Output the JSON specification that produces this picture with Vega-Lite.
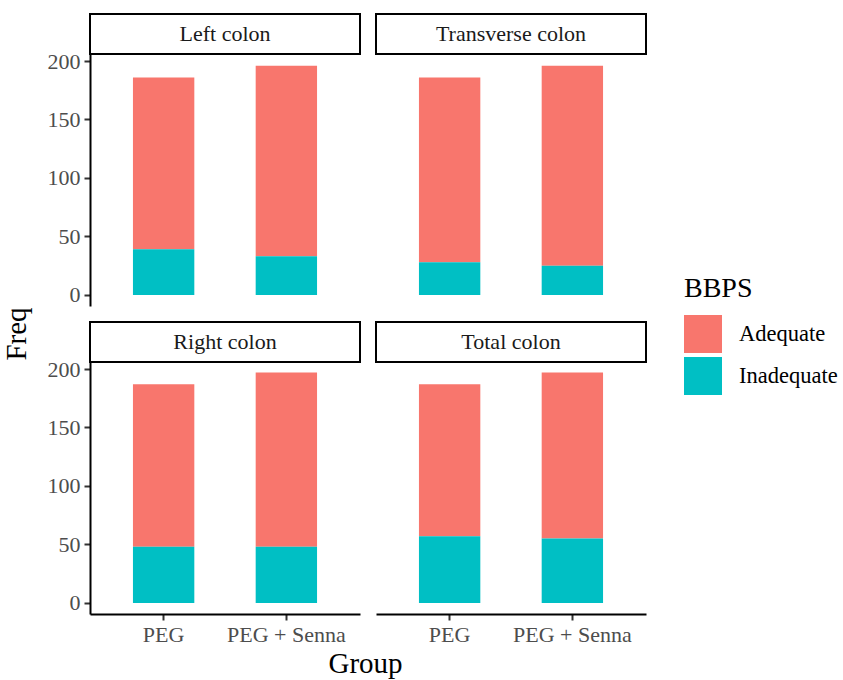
{
  "$schema": "https://vega.github.io/schema/vega-lite/v6.json",
  "padding": {"left": 2, "top": 13, "right": 5, "bottom": 5},
  "datasets": {
    "colon": [
      {"region": "Left colon", "Group": "PEG", "BBPS": "Adequate", "Freq": 147},
      {"region": "Left colon", "Group": "PEG", "BBPS": "Inadequate", "Freq": 39},
      {"region": "Left colon", "Group": "PEG + Senna", "BBPS": "Adequate", "Freq": 163},
      {"region": "Left colon", "Group": "PEG + Senna", "BBPS": "Inadequate", "Freq": 33},
      {"region": "Transverse colon", "Group": "PEG", "BBPS": "Adequate", "Freq": 158},
      {"region": "Transverse colon", "Group": "PEG", "BBPS": "Inadequate", "Freq": 28},
      {"region": "Transverse colon", "Group": "PEG + Senna", "BBPS": "Adequate", "Freq": 171},
      {"region": "Transverse colon", "Group": "PEG + Senna", "BBPS": "Inadequate", "Freq": 25},
      {"region": "Right colon", "Group": "PEG", "BBPS": "Adequate", "Freq": 139},
      {"region": "Right colon", "Group": "PEG", "BBPS": "Inadequate", "Freq": 48},
      {"region": "Right colon", "Group": "PEG + Senna", "BBPS": "Adequate", "Freq": 149},
      {"region": "Right colon", "Group": "PEG + Senna", "BBPS": "Inadequate", "Freq": 48},
      {"region": "Total colon", "Group": "PEG", "BBPS": "Adequate", "Freq": 130},
      {"region": "Total colon", "Group": "PEG", "BBPS": "Inadequate", "Freq": 57},
      {"region": "Total colon", "Group": "PEG + Senna", "BBPS": "Adequate", "Freq": 142},
      {"region": "Total colon", "Group": "PEG + Senna", "BBPS": "Inadequate", "Freq": 55}
    ]
  },
  "config": {
    "font": "Liberation Serif",
    "view": {"stroke": null},
    "axis": {
      "labelFont": "Liberation Serif", "labelFontSize": 22, "labelColor": "#4D4D4D",
      "titleFont": "Liberation Serif", "titleFontSize": 29, "titleFontWeight": "normal", "titleColor": "black",
      "domainColor": "black", "domainWidth": 2, "tickColor": "#333333", "tickWidth": 2, "tickSize": 6,
      "labelPadding": 4, "grid": false
    },
    "legend": {
      "titleFont": "Liberation Serif", "titleFontSize": 28, "titleFontWeight": "normal", "titleColor": "black",
      "labelFont": "Liberation Serif", "labelFontSize": 22.5, "labelColor": "black",
      "symbolType": "square", "symbolSize": 1444, "symbolStrokeWidth": 0,
      "labelOffset": 17, "rowPadding": 4, "titlePadding": 12,
      "orient": "none", "legendX": 651, "legendY": 261
    }
  },
  "resolve": {"scale": {"color": "shared"}, "legend": {"color": "shared"}},
  "spacing": 10,
  "hconcat": [
    {
      "data": {"name": "colon"},
      "width": 1, "height": 639,
      "mark": {"type": "point", "opacity": 0},
      "encoding": {
        "y": {"field": "Freq", "type": "quantitative", "axis": {"title": "Freq", "labels": false, "ticks": false, "domain": false, "titlePadding": 2}}
      }
    },
    {
      "spacing": 0,
      "vconcat": [
        {
          "spacing": 15,
          "vconcat": [
            {
              "spacing": 14,
              "hconcat": [
                {
                  "spacing": 0,
                  "bounds": "flush",
                  "vconcat": [
                    {
                      "data": {"name": "colon"},
                      "transform": [{"filter": "datum.region === 'Left colon'"}, {"aggregate": [{"op": "count", "as": "n"}], "groupby": ["region"]}],
                      "width": 270, "height": 40,
                      "view": {"stroke": "black", "strokeWidth": 2},
                      "mark": {"type": "text", "font": "Liberation Serif", "fontSize": 22, "color": "#1a1a1a"},
                      "encoding": {"text": {"field": "region", "type": "nominal"}}
                    },
                    {
                      "data": {"name": "colon"},
                      "transform": [{"filter": "datum.region === 'Left colon'"}],
                      "width": 270, "height": 252,
                      "mark": {"type": "bar"},
                      "encoding": {
                        "x": {"field": "Group", "type": "nominal", "scale": {"domain": ["PEG", "PEG + Senna"], "paddingInner": 0.5, "paddingOuter": 0.35}, "axis": null},
                        "y": {"field": "Freq", "type": "quantitative", "stack": "zero", "scale": {"domain": [-9.5, 206], "nice": false, "zero": false},
                              "axis": {"title": null, "values": [0, 50, 100, 150, 200]}},
                        "color": {"field": "BBPS", "type": "nominal", "scale": {"domain": ["Adequate", "Inadequate"], "range": ["#F8766D", "#00BFC4"]}, "legend": {"title": "BBPS"}},
                        "order": {"field": "BBPS", "sort": "descending"}
                      }
                    }
                  ]
                },
                {
                  "spacing": 0,
                  "bounds": "flush",
                  "vconcat": [
                    {
                      "data": {"name": "colon"},
                      "transform": [{"filter": "datum.region === 'Transverse colon'"}, {"aggregate": [{"op": "count", "as": "n"}], "groupby": ["region"]}],
                      "width": 270, "height": 40,
                      "view": {"stroke": "black", "strokeWidth": 2},
                      "mark": {"type": "text", "font": "Liberation Serif", "fontSize": 22, "color": "#1a1a1a"},
                      "encoding": {"text": {"field": "region", "type": "nominal"}}
                    },
                    {
                      "data": {"name": "colon"},
                      "transform": [{"filter": "datum.region === 'Transverse colon'"}],
                      "width": 270, "height": 252,
                      "mark": {"type": "bar"},
                      "encoding": {
                        "x": {"field": "Group", "type": "nominal", "scale": {"domain": ["PEG", "PEG + Senna"], "paddingInner": 0.5, "paddingOuter": 0.35}, "axis": null},
                        "y": {"field": "Freq", "type": "quantitative", "stack": "zero", "scale": {"domain": [-9.5, 206], "nice": false, "zero": false}, "axis": null},
                        "color": {"field": "BBPS", "type": "nominal", "scale": {"domain": ["Adequate", "Inadequate"], "range": ["#F8766D", "#00BFC4"]}, "legend": {"title": "BBPS"}},
                        "order": {"field": "BBPS", "sort": "descending"}
                      }
                    }
                  ]
                }
              ]
            },
            {
              "spacing": 14,
              "hconcat": [
                {
                  "spacing": 0,
                  "bounds": "flush",
                  "vconcat": [
                    {
                      "data": {"name": "colon"},
                      "transform": [{"filter": "datum.region === 'Right colon'"}, {"aggregate": [{"op": "count", "as": "n"}], "groupby": ["region"]}],
                      "width": 270, "height": 40,
                      "view": {"stroke": "black", "strokeWidth": 2},
                      "mark": {"type": "text", "font": "Liberation Serif", "fontSize": 22, "color": "#1a1a1a"},
                      "encoding": {"text": {"field": "region", "type": "nominal"}}
                    },
                    {
                      "data": {"name": "colon"},
                      "transform": [{"filter": "datum.region === 'Right colon'"}],
                      "width": 270, "height": 252,
                      "mark": {"type": "bar"},
                      "encoding": {
                        "x": {"field": "Group", "type": "nominal", "scale": {"domain": ["PEG", "PEG + Senna"], "paddingInner": 0.5, "paddingOuter": 0.35},
                              "axis": {"title": null, "labelAngle": 0}},
                        "y": {"field": "Freq", "type": "quantitative", "stack": "zero", "scale": {"domain": [-9.5, 206], "nice": false, "zero": false},
                              "axis": {"title": null, "values": [0, 50, 100, 150, 200]}},
                        "color": {"field": "BBPS", "type": "nominal", "scale": {"domain": ["Adequate", "Inadequate"], "range": ["#F8766D", "#00BFC4"]}, "legend": {"title": "BBPS"}},
                        "order": {"field": "BBPS", "sort": "descending"}
                      }
                    }
                  ]
                },
                {
                  "spacing": 0,
                  "bounds": "flush",
                  "vconcat": [
                    {
                      "data": {"name": "colon"},
                      "transform": [{"filter": "datum.region === 'Total colon'"}, {"aggregate": [{"op": "count", "as": "n"}], "groupby": ["region"]}],
                      "width": 270, "height": 40,
                      "view": {"stroke": "black", "strokeWidth": 2},
                      "mark": {"type": "text", "font": "Liberation Serif", "fontSize": 22, "color": "#1a1a1a"},
                      "encoding": {"text": {"field": "region", "type": "nominal"}}
                    },
                    {
                      "data": {"name": "colon"},
                      "transform": [{"filter": "datum.region === 'Total colon'"}],
                      "width": 270, "height": 252,
                      "mark": {"type": "bar"},
                      "encoding": {
                        "x": {"field": "Group", "type": "nominal", "scale": {"domain": ["PEG", "PEG + Senna"], "paddingInner": 0.5, "paddingOuter": 0.35},
                              "axis": {"title": null, "labelAngle": 0}},
                        "y": {"field": "Freq", "type": "quantitative", "stack": "zero", "scale": {"domain": [-9.5, 206], "nice": false, "zero": false}, "axis": null},
                        "color": {"field": "BBPS", "type": "nominal", "scale": {"domain": ["Adequate", "Inadequate"], "range": ["#F8766D", "#00BFC4"]}, "legend": {"title": "BBPS"}},
                        "order": {"field": "BBPS", "sort": "descending"}
                      }
                    }
                  ]
                }
              ]
            }
          ]
        },
        {
          "data": {"name": "colon"},
          "width": 550, "height": 1,
          "mark": {"type": "point", "opacity": 0},
          "encoding": {
            "x": {"field": "Freq", "type": "quantitative", "axis": {"title": "Group", "labels": false, "ticks": false, "domain": false, "titlePadding": 0}}
          }
        }
      ]
    }
  ]
}
